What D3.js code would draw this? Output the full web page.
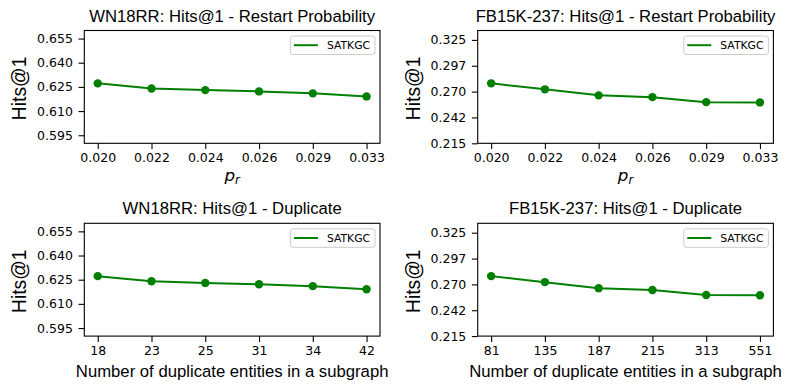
<!DOCTYPE html>
<html>
<head>
<meta charset="utf-8">
<script src="https://cdn.jsdelivr.net/npm/d3@7"></script>
<style>
  html, body { margin: 0; padding: 0; background: #fff; }
  svg { display: block; }
</style>
</head>
<body>
<svg id="chart" width="791" height="390"></svg>
<script>
// ---- Data ----
const restartCategories = ["0.020", "0.022", "0.024", "0.026", "0.029", "0.033"];
const wnDupCategories = ["18", "23", "25", "31", "34", "42"];
const fbDupCategories = ["81", "135", "187", "215", "313", "551"];

const wnRestartHits1 = [0.6272, 0.6240, 0.6230, 0.6222, 0.6210, 0.6191];
const fbRestartHits1 = [0.2788, 0.2724, 0.2660, 0.2641, 0.2588, 0.2585];
const wnDuplicateHits1 = [0.6272, 0.6240, 0.6230, 0.6222, 0.6210, 0.6191];
const fbDuplicateHits1 = [0.2788, 0.2724, 0.2660, 0.2641, 0.2588, 0.2585];

const wnYTicks = [0.595, 0.610, 0.625, 0.640, 0.655];
const wnYTickLabels = ["0.595", "0.610", "0.625", "0.640", "0.655"];
const fbYTicks = [0.215, 0.2425, 0.270, 0.2975, 0.325];
const fbYTickLabels = ["0.215", "0.242", "0.270", "0.297", "0.325"];
const wnYDomain = [0.59, 0.66];
const fbYDomain = [0.215, 0.335];

const seriesName = "SATKGC";
const titles = [
  "WN18RR: Hits@1 - Restart Probability",
  "FB15K-237: Hits@1 - Restart Probability",
  "WN18RR: Hits@1 - Duplicate",
  "FB15K-237: Hits@1 - Duplicate"
];
const yLabel = "Hits@1";
const dupXLabel = "Number of duplicate entities in a subgraph";

// ---- Layout ----
const W = 295.7, H = 112.8;
const panels = [
  { x0: 84.3, y0: 30.5, cats: restartCategories, vals: wnRestartHits1, dom: wnYDomain, ticks: wnYTicks, tlabels: wnYTickLabels, title: titles[0], xl: "pr" },
  { x0: 477.7, y0: 30.5, cats: restartCategories, vals: fbRestartHits1, dom: fbYDomain, ticks: fbYTicks, tlabels: fbYTickLabels, title: titles[1], xl: "pr" },
  { x0: 84.3, y0: 223.3, cats: wnDupCategories, vals: wnDuplicateHits1, dom: wnYDomain, ticks: wnYTicks, tlabels: wnYTickLabels, title: titles[2], xl: "dup" },
  { x0: 477.7, y0: 223.3, cats: fbDupCategories, vals: fbDuplicateHits1, dom: fbYDomain, ticks: fbYTicks, tlabels: fbYTickLabels, title: titles[3], xl: "dup" }
];

const GREEN = "#008000";
const SANS = "'Liberation Sans', Arial, sans-serif";
const DEJAVU = "'DejaVu Sans', sans-serif";
const svg = d3.select("#chart");

panels.forEach(p => {
  const g = svg.append("g").attr("transform", `translate(${p.x0},${p.y0})`);
  const x = d3.scaleLinear().domain([-0.25, p.cats.length - 1 + 0.25]).range([0, W]);
  const y = d3.scaleLinear().domain(p.dom).range([H, 0]);

  // Y axis
  const yAxis = d3.axisLeft(y).tickValues(p.ticks)
    .tickFormat((d, i) => p.tlabels[i]).tickSizeOuter(0).tickSize(5.8).tickPadding(5.6);
  const ya = g.append("g").call(yAxis);
  ya.select(".domain").remove();
  ya.selectAll("line").attr("stroke", "#000").attr("stroke-width", 1.1);
  ya.selectAll("text").attr("font-family", DEJAVU).attr("font-size", 12.5).attr("fill", "#000");

  // X axis
  const xAxis = d3.axisBottom(x).tickValues(d3.range(p.cats.length))
    .tickFormat(i => p.cats[i]).tickSizeOuter(0).tickSize(5.8).tickPadding(4.2);
  const xa = g.append("g").attr("transform", `translate(0,${H})`).call(xAxis);
  xa.select(".domain").remove();
  xa.selectAll("line").attr("stroke", "#000").attr("stroke-width", 1.1);
  xa.selectAll("text").attr("font-family", DEJAVU).attr("font-size", 12.5).attr("fill", "#000");

  // Line & markers
  const line = d3.line().x((d, i) => x(i)).y(d => y(d));
  g.append("path").datum(p.vals).attr("d", line)
    .attr("fill", "none").attr("stroke", GREEN).attr("stroke-width", 2);
  g.selectAll("circle.pt").data(p.vals).enter().append("circle")
    .attr("class", "pt").attr("cx", (d, i) => x(i)).attr("cy", d => y(d))
    .attr("r", 4.2).attr("fill", GREEN);

  // Frame
  g.append("rect").attr("x", 0).attr("y", 0).attr("width", W).attr("height", H)
    .attr("fill", "none").attr("stroke", "#000").attr("stroke-width", 1.1);

  // Legend
  const lg = g.append("g").attr("transform", `translate(${W - 5 - 84.6},5.5)`);
  lg.append("rect").attr("width", 84.6).attr("height", 18.5).attr("rx", 2.5)
    .attr("fill", "#fff").attr("fill-opacity", 0.8).attr("stroke", "#cccccc").attr("stroke-width", 1);
  lg.append("line").attr("x1", 3.5).attr("x2", 27.5).attr("y1", 9.2).attr("y2", 9.2)
    .attr("stroke", GREEN).attr("stroke-width", 2);
  lg.append("text").attr("x", 36.5).attr("y", 13).attr("font-family", DEJAVU)
    .attr("font-size", 10.8).attr("fill", "#000").text(seriesName);

  // Title
  g.append("text").attr("x", W / 2).attr("y", -9).attr("text-anchor", "middle")
    .attr("font-family", SANS).attr("font-size", 16.7).attr("fill", "#000").text(p.title);

  // Y label
  g.append("text").attr("transform", `translate(-58,${H / 2 + 1.5}) rotate(-90)`)
    .attr("text-anchor", "middle").attr("font-family", SANS).attr("font-size", 19.3)
    .attr("fill", "#000").text(yLabel);

  // X label
  if (p.xl === "pr") {
    const t = g.append("text").attr("x", W / 2).attr("y", H + 37.5).attr("text-anchor", "middle")
      .attr("font-family", DEJAVU).attr("font-style", "italic").attr("font-size", 16.7).attr("fill", "#000");
    t.append("tspan").text("p");
    t.append("tspan").attr("font-size", 11.7).attr("dy", 3).text("r");
  } else {
    g.append("text").attr("x", W / 2).attr("y", H + 40.5).attr("text-anchor", "middle")
      .attr("font-family", SANS).attr("font-size", 16.7).attr("fill", "#000").text(dupXLabel);
  }
});
</script>
</body>
</html>
